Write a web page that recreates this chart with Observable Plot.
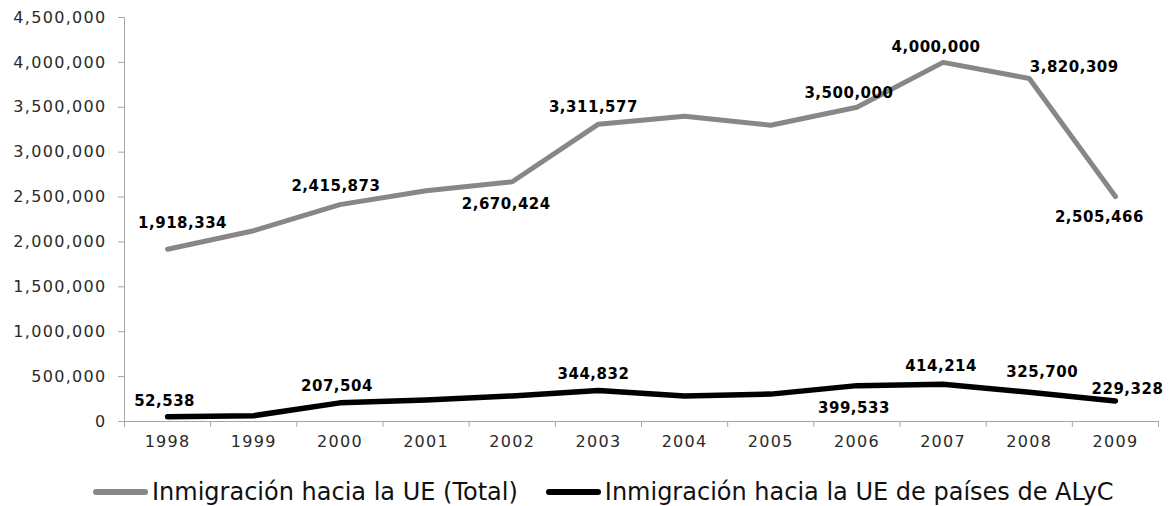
<!DOCTYPE html>
<html>
<head>
<meta charset="utf-8">
<script src="https://cdn.jsdelivr.net/npm/d3@7"></script>
<script src="https://cdn.jsdelivr.net/npm/@observablehq/plot@0.6"></script>
<style>
  html, body { margin: 0; padding: 0; background: #fff; }
  #wrap { position: relative; width: 1172px; height: 506px; font-family: "DejaVu Sans", sans-serif; }
  #chart svg text { letter-spacing: 1.3px; }
  #chart svg g[font-weight="bold"] text { letter-spacing: 0.5px; }
  #legend { position: absolute; left: 93px; top: 480px; display: flex; align-items: center; font-size: 24px; line-height: 24px; color: #111; white-space: nowrap; }
  .sw { display: inline-block; width: 55px; height: 6px; border-radius: 3px; margin-right: 4px; }
  .item { display: flex; align-items: center; }
  .item + .item { margin-left: 28px; }
</style>
</head>
<body>
<div id="wrap">
  <div id="chart"></div>
  <div id="legend"></div>
</div>
<script>
// ---- data ----
const years = [1998, 1999, 2000, 2001, 2002, 2003, 2004, 2005, 2006, 2007, 2008, 2009];
const totalValues = [1918334, 2125000, 2415873, 2570000, 2670424, 3311577, 3400000, 3300000, 3500000, 4000000, 3820309, 2505466];
const alycValues = [52538, 65000, 207504, 240000, 285000, 344832, 285000, 305000, 399533, 414214, 325700, 229328];
const seriesNames = ["Inmigración hacia la UE (Total)", "Inmigración hacia la UE de países de ALyC"];
const totalLabeledYears = [1998, 2000, 2002, 2003, 2006, 2007, 2008, 2009];
const alycLabeledYears = [1998, 2000, 2003, 2006, 2007, 2008, 2009];
const yTicks = [0, 500000, 1000000, 1500000, 2000000, 2500000, 3000000, 3500000, 4000000, 4500000];

// ---- label placement (layout only) ----
const totalLabelOffsets = {1998: [15, -26], 2000: [-4, -18], 2002: [-6, 22], 2003: [-5, -17], 2006: [-8, -14], 2007: [-7, -15], 2008: [45, -11], 2009: [-16, 21]};
const alycLabelOffsets = {1998: [-3, -16], 2000: [-3, -17], 2003: [-5, -16], 2006: [-3, 23], 2007: [-2, -18], 2008: [13, -20], 2009: [12, -12]};

const colors = ["#878787", "#000000"];

const total = years.map((year, i) => ({year, value: totalValues[i], series: seriesNames[0]}));
const alyc = years.map((year, i) => ({year, value: alycValues[i], series: seriesNames[1]}));

const fmt = d3.format(",");
const boundaries = years.map(y => y - 0.5).concat([years[years.length - 1] + 0.5]);

function labelMarks(data, labeled, offsets) {
  return data.filter(d => labeled.includes(d.year)).map(d => Plot.text([d], {
    x: "year", y: "value", text: d => fmt(d.value),
    dx: offsets[d.year][0], dy: offsets[d.year][1],
    fontWeight: "bold", fontSize: 15, fill: "#000"
  }));
}

const chart = Plot.plot({
  width: 1172,
  height: 456,
  marginLeft: 124,
  marginRight: 14,
  marginTop: 17,
  marginBottom: 35,
  x: {domain: [boundaries[0], boundaries[boundaries.length - 1]]},
  y: {domain: [0, 4500000]},
  style: {fontFamily: "DejaVu Sans, sans-serif", fontSize: "16px", background: "#fff", overflow: "visible"},
  marks: [
    Plot.axisY({ticks: yTicks, tickSize: 6, tickPadding: 12, tickFormat: fmt, label: null, stroke: "#a6a6a6", fill: "#2a2a2a", fontSize: 16}),
    Plot.axisX({ticks: boundaries, tickSize: 6, tickFormat: () => "", label: null, stroke: "#a6a6a6"}),
    Plot.axisX({ticks: years, tickSize: 0, tickPadding: 14, tickFormat: d => String(d), label: null, fill: "#2a2a2a", fontSize: 16}),
    Plot.ruleX([boundaries[0]], {stroke: "#a6a6a6"}),
    Plot.ruleY([0], {stroke: "#a6a6a6"}),
    Plot.line(total, {x: "year", y: "value", stroke: colors[0], strokeWidth: 5, strokeLinejoin: "round", strokeLinecap: "round"}),
    Plot.line(alyc, {x: "year", y: "value", stroke: colors[1], strokeWidth: 5.5, strokeLinejoin: "round", strokeLinecap: "round"}),
    ...labelMarks(total, totalLabeledYears, totalLabelOffsets),
    ...labelMarks(alyc, alycLabeledYears, alycLabelOffsets)
  ]
});
document.getElementById("chart").appendChild(chart);

const legend = document.getElementById("legend");
seriesNames.forEach((name, i) => {
  const item = document.createElement("span");
  item.className = "item";
  const sw = document.createElement("span");
  sw.className = "sw";
  sw.style.background = colors[i];
  const label = document.createElement("span");
  label.textContent = name;
  item.appendChild(sw);
  item.appendChild(label);
  legend.appendChild(item);
});
</script>
</body>
</html>
